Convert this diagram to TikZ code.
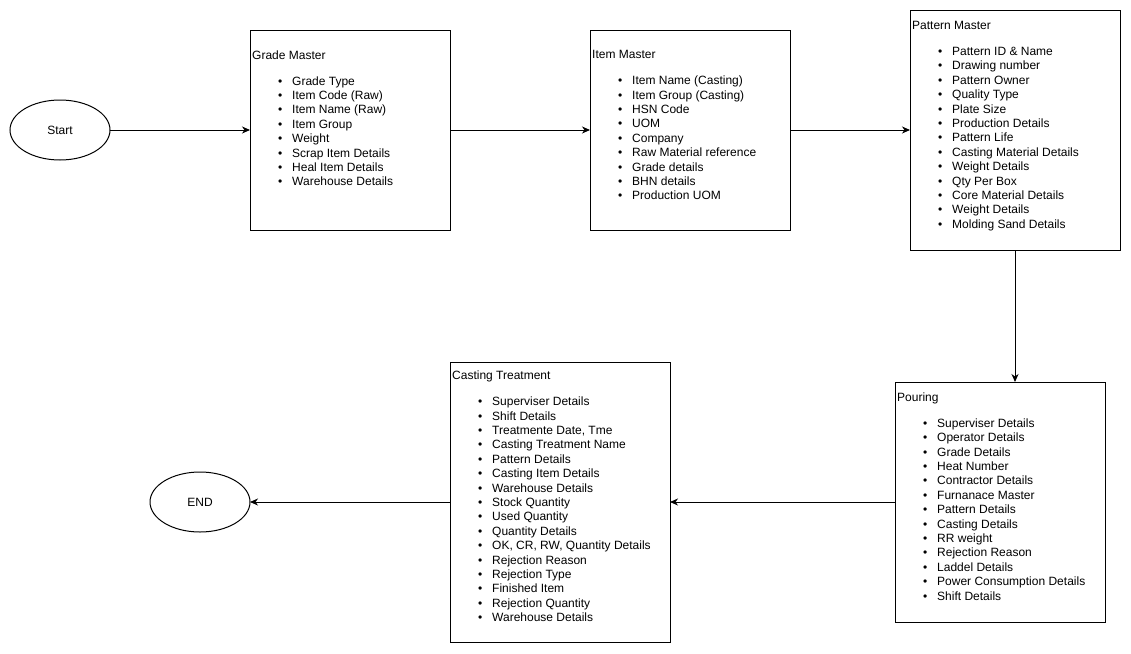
\documentclass[tikz,border=0pt]{standalone}
\usepackage{fontspec}
\setmainfont{Liberation Sans}
\usetikzlibrary{arrows.meta,shapes.geometric}
\newcommand{\bul}{\makebox[40pt][l]{\hspace*{26pt}\textbullet}}

\begin{document}
\begin{tikzpicture}[x=1pt,y=-1pt,
  font=\fontsize{12}{14.4}\selectfont,
  box/.style={draw,line width=1pt,inner sep=0pt,outer sep=0pt},
  oval/.style={draw,ellipse,line width=1pt,minimum width=100pt,minimum height=60pt,inner sep=0pt,outer sep=0pt},
  txt/.style={anchor=north west,align=left,inner sep=0pt},
  arr/.style={line width=1pt,-{Stealth[length=8pt,width=7pt,inset=2.5pt]}}]
  \path[use as bounding box,fill=white] (0,0) rectangle (1131,653);

  % start / end
  \node[oval] (start) at (60,130) {Start};
  \node[oval] (stop) at (200,502) {END};

  % boxes
  \node[box,minimum width=200pt,minimum height=200pt] (grade) at (350,130) {};
  \node[box,minimum width=200pt,minimum height=200pt] (item) at (690,130) {};
  \node[box,minimum width=210pt,minimum height=240pt] (pattern) at (1015,130) {};
  \node[box,minimum width=210pt,minimum height=240pt] (pouring) at (1000,502) {};
  \node[box,minimum width=220pt,minimum height=280pt] (casting) at (560,502) {};

  % box texts
  \node[txt] (gradetxt) at (252,50.3) {Grade Master\\[11.6pt]
    \bul Grade Type\\ \bul Item Code (Raw)\\ \bul Item Name (Raw)\\
    \bul Item Group\\ \bul Weight\\ \bul Scrap Item Details\\
    \bul Heal Item Details\\ \bul Warehouse Details};
  \node[txt] (itemtxt) at (592,50.3) {Item Master\\[11.6pt]
    \bul Item Name (Casting)\\ \bul Item Group (Casting)\\ \bul HSN Code\\
    \bul UOM\\ \bul Company\\ \bul Raw Material reference\\
    \bul Grade details\\ \bul BHN details\\ \bul Production UOM};
  \node[txt] (patterntxt) at (912,21) {Pattern Master\\[11.6pt]
    \bul Pattern ID \& Name\\ \bul Drawing number\\ \bul Pattern Owner\\
    \bul Quality Type\\ \bul Plate Size\\ \bul Production Details\\
    \bul Pattern Life\\ \bul Casting Material Details\\ \bul Weight Details\\
    \bul Qty Per Box\\ \bul Core Material Details\\ \bul Weight Details\\
    \bul Molding Sand Details};
  \node[txt] (pouringtxt) at (897,392.3) {Pouring\\[11.6pt]
    \bul Superviser Details\\ \bul Operator Details\\ \bul Grade Details\\
    \bul Heat Number\\ \bul Contractor Details\\ \bul Furnanace Master\\
    \bul Pattern Details\\ \bul Casting Details\\ \bul RR weight\\
    \bul Rejection Reason\\ \bul Laddel Details\\
    \bul Power Consumption Details\\ \bul Shift Details};
  \node[txt] (castingtxt) at (452,370.8) {Casting Treatment\\[11.6pt]
    \bul Superviser Details\\ \bul Shift Details\\
    \bul Treatmente Date, Tme\\ \bul Casting Treatment Name\\
    \bul Pattern Details\\ \bul Casting Item Details\\
    \bul Warehouse Details\\ \bul Stock Quantity\\ \bul Used Quantity\\
    \bul Quantity Details\\ \bul OK, CR, RW, Quantity Details\\
    \bul Rejection Reason\\ \bul Rejection Type\\ \bul Finished Item\\
    \bul Rejection Quantity\\ \bul Warehouse Details};

  % connectors
  \draw[arr] (start) -- (grade);
  \draw[arr] (grade) -- (item);
  \draw[arr] (item) -- (pattern);
  \draw[arr] (pattern.south) -- (pattern.south |- pouring.north);
  \draw[arr] (pouring) -- (casting);
  \draw[arr] (casting) -- (stop);
\end{tikzpicture}
\end{document}
